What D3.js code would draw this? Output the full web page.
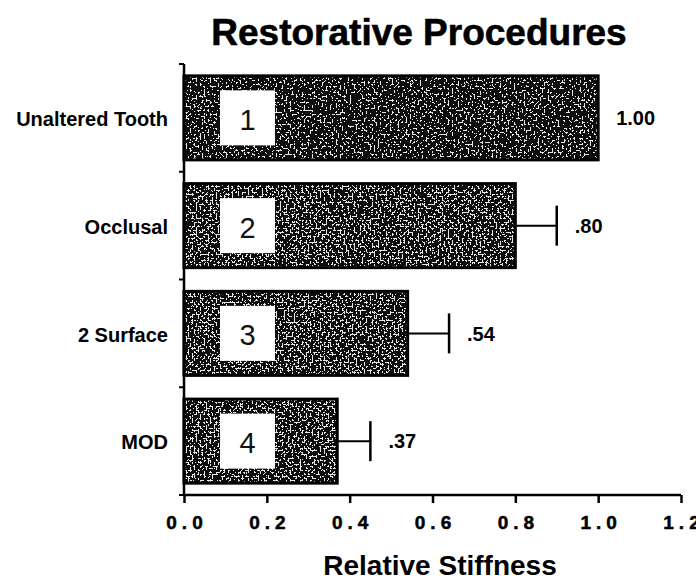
<!DOCTYPE html>
<meta charset="utf-8">
<style>
  body { margin:0; background:#fff; }
  svg { display:block; font-family:"Liberation Sans", Arial, sans-serif; }
  .bold { font-weight:bold; }
</style>
<svg width="696" height="580"></svg>
<script src="https://cdn.jsdelivr.net/npm/d3@7"></script>
<script>

// data
var categories = ["Unaltered Tooth", "Occlusal", "2 Surface", "MOD"];
var stiffness = [1.00, 0.80, 0.54, 0.37];
var errors = [0, 0.10, 0.10, 0.08];
var valueLabels = ["1.00", ".80", ".54", ".37"];
var boxNumbers = ["1", "2", "3", "4"];
var xTicks = [0, 0.2, 0.4, 0.6, 0.8, 1.0, 1.2];

var svg = d3.select("svg");

var data = categories.map(function(c, i) {
  return { name: c, v: stiffness[i], err: errors[i], label: valueLabels[i], num: boxNumbers[i] };
});

var x = d3.scaleLinear().domain([0, 1.2]).range([184, 681]);
var y = d3.scaleBand().domain(categories).range([64, 495])
    .paddingInner(0.22).paddingOuter(0.11);

// grainy scanned fill: dark bar with white speckles
var defs = svg.append("defs");
function grain(id, cut) {
  var f = defs.append("filter").attr("id", id)
      .attr("x", 0).attr("y", 0).attr("width", 1).attr("height", 1);
  f.append("feTurbulence").attr("type", "fractalNoise").attr("baseFrequency", 0.5)
      .attr("numOctaves", 3).attr("seed", 4).attr("result", "noise");
  f.append("feColorMatrix").attr("in", "noise").attr("type", "matrix")
      .attr("values", "0 0 0 0 0  0 0 0 0 0  0 0 0 0 0  2.4 0 0 0 " + cut).attr("result", "m");
  f.append("feComponentTransfer").attr("in", "m").attr("result", "dots")
    .append("feFuncA").attr("type", "discrete").attr("tableValues", "0 1");
  f.append("feFlood").attr("flood-color", "#e6e6e6").attr("result", "white");
  f.append("feComposite").attr("in", "white").attr("in2", "dots").attr("operator", "in").attr("result", "speck");
  f.append("feComposite").attr("in", "speck").attr("in2", "SourceGraphic").attr("operator", "atop");
}
grain("grainDark", -0.92);
grain("grainMid", -0.82);

// title
svg.append("text").attr("class", "bold")
    .attr("x", 419).attr("y", 45)
    .attr("text-anchor", "middle")
    .style("font-size", "37px")
    .attr("stroke", "#000").attr("stroke-width", 0.6)
    .text("Restorative Procedures");

var bars = svg.append("g");

bars.selectAll("rect.fill")
  .data(data).enter().append("rect")
    .attr("class", "fill")
    .attr("x", x(0))
    .attr("y", function(d) { return y(d.name); })
    .attr("width", function(d) { return x(d.v) - x(0); })
    .attr("height", y.bandwidth())
    .attr("fill", "#0d0d0d")
    .attr("filter", function(d, i) { return i === 0 ? "url(#grainDark)" : "url(#grainMid)"; });

bars.selectAll("rect.edge")
  .data(data).enter().append("rect")
    .attr("class", "edge")
    .attr("x", x(0))
    .attr("y", function(d) { return y(d.name); })
    .attr("width", function(d) { return x(d.v) - x(0); })
    .attr("height", y.bandwidth())
    .attr("fill", "none")
    .attr("stroke", "#000")
    .attr("stroke-width", 3);

// numbered white boxes
var box = svg.append("g").selectAll("g")
  .data(data).enter().append("g")
    .attr("transform", function(d) { return "translate(" + (x(0) + 36) + "," + (y(d.name) + y.bandwidth() / 2 - 27.5) + ")"; });

box.append("rect")
    .attr("width", 55).attr("height", 55)
    .attr("fill", "#fff");

box.append("text")
    .attr("x", 27.5).attr("y", 29)
    .attr("dy", "0.36em")
    .attr("text-anchor", "middle")
    .style("font-size", "29px")
    .attr("fill", "#111")
    .text(function(d) { return d.num; });

// error bars
var eb = svg.append("g").selectAll("g")
  .data(data.filter(function(d) { return d.err > 0; })).enter().append("g")
    .attr("stroke", "#000");

eb.append("line")
    .attr("x1", function(d) { return x(d.v); })
    .attr("x2", function(d) { return x(d.v + d.err); })
    .attr("y1", function(d) { return y(d.name) + y.bandwidth() / 2; })
    .attr("y2", function(d) { return y(d.name) + y.bandwidth() / 2; })
    .attr("stroke-width", 2);

eb.append("line")
    .attr("x1", function(d) { return x(d.v + d.err); })
    .attr("x2", function(d) { return x(d.v + d.err); })
    .attr("y1", function(d) { return y(d.name) + y.bandwidth() / 2 - 20; })
    .attr("y2", function(d) { return y(d.name) + y.bandwidth() / 2 + 20; })
    .attr("stroke-width", 2.5);

// value labels
svg.append("g").selectAll("text")
  .data(data).enter().append("text")
    .attr("class", "bold")
    .attr("x", function(d) { return x(d.v + d.err) + 18; })
    .attr("y", function(d) { return y(d.name) + y.bandwidth() / 2; })
    .attr("dy", "0.36em")
    .style("font-size", "20px")
    .text(function(d) { return d.label; });

// y axis: line with separator ticks between bands
var yAxis = svg.append("g").attr("stroke", "#000");
yAxis.append("line")
    .attr("x1", x(0)).attr("x2", x(0))
    .attr("y1", y.range()[0]).attr("y2", y.range()[1])
    .attr("stroke-width", 2.5);
yAxis.selectAll("line.tk")
  .data(d3.range(categories.length + 1)).enter().append("line")
    .attr("class", "tk")
    .attr("x1", x(0) - 5).attr("x2", x(0))
    .attr("y1", function(i) { return y.range()[0] + i * y.step(); })
    .attr("y2", function(i) { return y.range()[0] + i * y.step(); })
    .attr("stroke-width", 2);

svg.append("g").selectAll("text")
  .data(categories).enter().append("text")
    .attr("class", "bold")
    .attr("x", 168)
    .attr("y", function(d) { return y(d) + y.bandwidth() / 2 + 1; })
    .attr("dy", "0.36em")
    .attr("text-anchor", "end")
    .style("font-size", "20px")
    .text(function(d) { return d; });

// x axis
var xAxis = svg.append("g")
    .attr("transform", "translate(0,495)")
    .call(d3.axisBottom(x).tickValues(xTicks).tickSize(8).tickPadding(13)
      .tickFormat(d3.format(".1f")));

xAxis.select(".domain").attr("stroke-width", 2.5).attr("d", "M" + x(0) + ",0H" + x(1.2));
xAxis.selectAll(".tick line").attr("stroke-width", 2.5);
xAxis.selectAll(".tick text")
    .attr("font-family", "\"Liberation Sans\", Arial, sans-serif")
    .attr("font-weight", "bold")
    .attr("font-size", 19)
    .style("font-size", "19px")
    .style("letter-spacing", "5px")
    .attr("dx", "2.5px")
    .attr("fill", "#000")
    .attr("stroke", "#000")
    .attr("stroke-width", 0.5);

svg.append("text").attr("class", "bold")
    .attr("x", 440).attr("y", 575)
    .attr("text-anchor", "middle")
    .style("font-size", "28px")
    .text("Relative Stiffness");

</script>
